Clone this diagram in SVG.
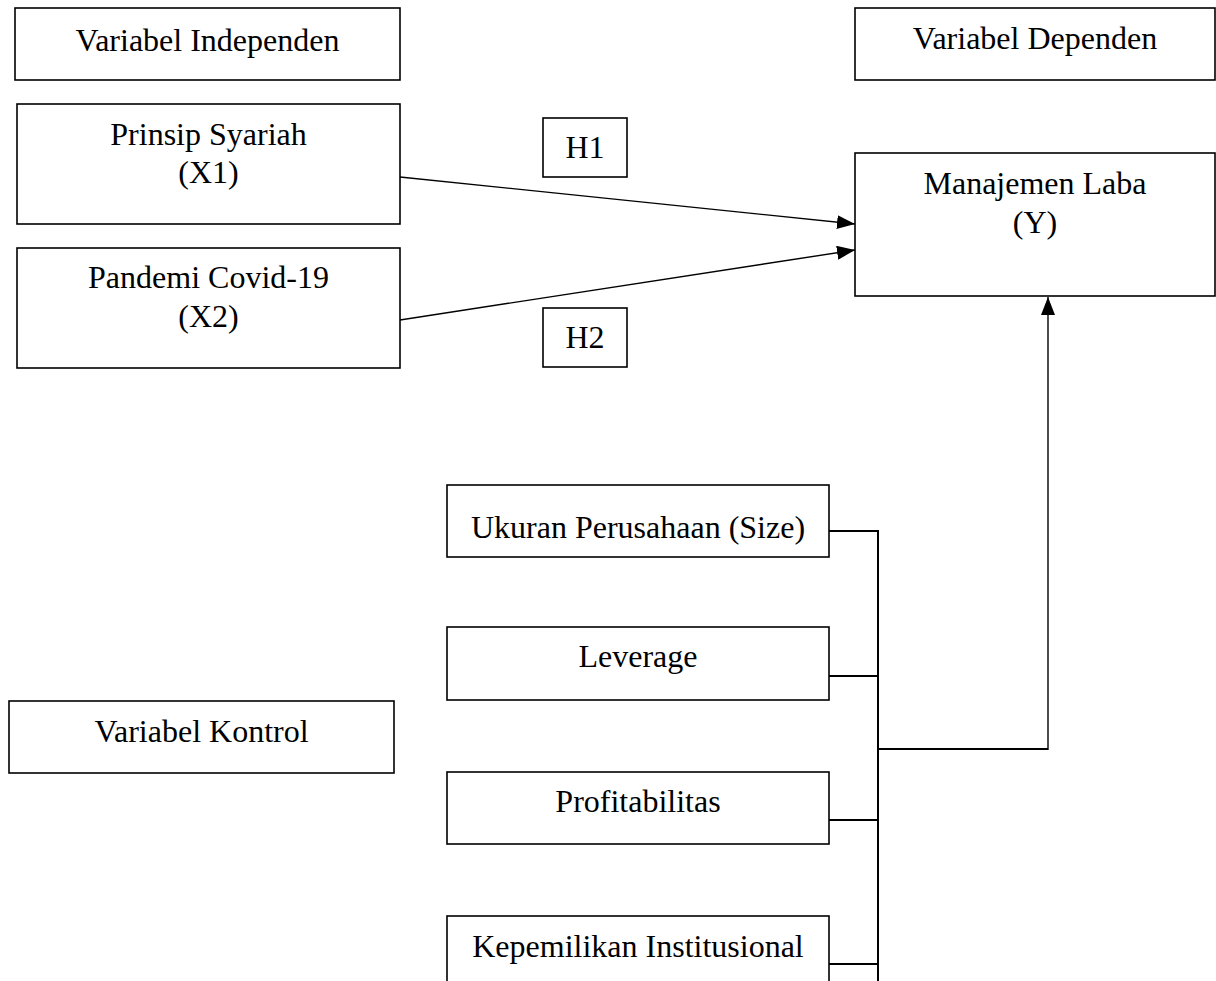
<svg xmlns="http://www.w3.org/2000/svg" width="1216" height="981" viewBox="0 0 1216 981">
<style>
.box{fill:#fff;stroke:#000;stroke-width:1.6}
.t{font-family:"Liberation Serif","Times New Roman",serif;font-size:32px;fill:#000;text-anchor:middle}
.ln{stroke:#000;stroke-width:1.4;fill:none}
.bus{stroke:#000;stroke-width:2;fill:none}
</style>
<defs>
<marker id="ah" viewBox="0 0 18 14" refX="18" refY="7" markerWidth="18" markerHeight="14" markerUnits="userSpaceOnUse" orient="auto">
<path d="M0,0 L18,7 L0,14 Z" fill="#000"/>
</marker>
</defs>
<rect width="1216" height="981" fill="#fff"/>
<g id="connectors">
<line class="ln" x1="400" y1="177" x2="855" y2="224" marker-end="url(#ah)"/>
<line class="ln" x1="400" y1="320" x2="855" y2="250" marker-end="url(#ah)"/>
<line class="bus" x1="829" y1="531" x2="878" y2="531"/>
<line class="bus" x1="829" y1="676" x2="878" y2="676"/>
<line class="bus" x1="829" y1="820" x2="878" y2="820"/>
<line class="bus" x1="829" y1="964" x2="878" y2="964"/>
<line class="bus" x1="878" y1="530" x2="878" y2="981"/>
<line class="bus" x1="878" y1="749" x2="1048" y2="749"/>
<line class="ln" x1="1048" y1="750" x2="1048" y2="297" marker-end="url(#ah)"/>
</g>
<g id="var-independen">
<rect class="box" x="15" y="8" width="385" height="72"/>
<text class="t" x="207.5" y="51">Variabel Independen</text>
</g>
<g id="prinsip-syariah">
<rect class="box" x="17" y="104" width="383" height="120"/>
<text class="t" x="208.5" y="145">Prinsip Syariah</text>
<text class="t" x="208.5" y="183">(X1)</text>
</g>
<g id="pandemi">
<rect class="box" x="17" y="248" width="383" height="120"/>
<text class="t" x="208.5" y="288">Pandemi Covid-19</text>
<text class="t" x="208.5" y="327">(X2)</text>
</g>
<g id="h1">
<rect class="box" x="543" y="118" width="84" height="59"/>
<text class="t" x="585" y="158">H1</text>
</g>
<g id="h2">
<rect class="box" x="543" y="308" width="84" height="59"/>
<text class="t" x="585" y="348">H2</text>
</g>
<g id="var-dependen">
<rect class="box" x="855" y="8" width="360" height="72"/>
<text class="t" x="1035" y="49">Variabel Dependen</text>
</g>
<g id="manajemen-laba">
<rect class="box" x="855" y="153" width="360" height="143"/>
<text class="t" x="1035" y="194">Manajemen Laba</text>
<text class="t" x="1035" y="233">(Y)</text>
</g>
<g id="var-kontrol">
<rect class="box" x="9" y="701" width="385" height="72"/>
<text class="t" x="201.5" y="742">Variabel Kontrol</text>
</g>
<g id="ukuran">
<rect class="box" x="447" y="485" width="382" height="72"/>
<text class="t" x="638" y="538">Ukuran Perusahaan (Size)</text>
</g>
<g id="leverage">
<rect class="box" x="447" y="627" width="382" height="73"/>
<text class="t" x="638" y="667">Leverage</text>
</g>
<g id="profitabilitas">
<rect class="box" x="447" y="772" width="382" height="72"/>
<text class="t" x="638" y="812">Profitabilitas</text>
</g>
<g id="kepemilikan">
<rect class="box" x="447" y="916" width="382" height="80"/>
<text class="t" x="638" y="957">Kepemilikan Institusional</text>
</g>
</svg>
